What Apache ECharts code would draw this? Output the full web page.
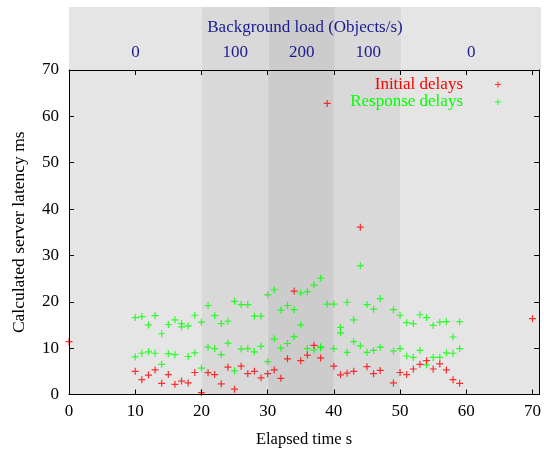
<!DOCTYPE html>
<html>
<head>
<meta charset="utf-8">
<script src="https://cdn.jsdelivr.net/npm/echarts@6/dist/echarts.min.js"></script>
<style>html,body{margin:0;padding:0;background:#fff;}#c{width:544px;height:453px;}</style>
</head>
<body>
<div id="c"></div>
<script>
// ---- data ----
var initialTimes  = [0, 10, 11, 12, 13, 14, 15, 16, 17, 18, 19, 20, 21, 22, 23, 24, 25, 26, 27, 28, 29, 30, 31, 32, 33, 34, 35, 36, 37, 38, 39, 40, 41, 42, 43, 44, 45, 46, 47, 49, 50, 51, 52, 53, 54, 55, 56, 57, 58, 59, 70];
var initialDelays = [11.4, 5.0, 3.2, 4.2, 5.3, 2.4, 4.3, 2.2, 2.9, 2.5, 4.75, 0.4, 4.7, 4.3, 2.3, 5.9, 1.15, 6.1, 4.5, 5.0, 3.6, 4.5, 5.3, 3.5, 7.7, 22.3, 7.3, 8.5, 10.6, 7.9, 62.8, 6.1, 4.25, 4.6, 5.0, 36.1, 6.0, 4.5, 5.2, 2.5, 4.75, 4.3, 5.5, 6.5, 7.3, 5.5, 6.6, 5.3, 3.2, 2.4, 16.35];

var responseTimesA  = [10, 11, 12, 13, 14, 15, 16, 17, 18, 19, 20, 21, 22, 23, 24, 25, 26, 27, 28, 29, 30, 31, 32, 33, 34, 35, 36, 37, 38, 39, 40, 41, 42, 43, 44, 45, 46, 47, 49, 50, 51, 52, 53, 54, 55, 56, 57, 58, 59];
var responseDelaysA = [16.6, 16.8, 15.0, 17.0, 13.1, 15.1, 16.1, 15.3, 14.8, 17.1, 15.6, 19.2, 17.0, 15.3, 15.8, 20.1, 19.4, 19.4, 16.9, 16.9, 21.5, 22.6, 18.2, 19.2, 18.3, 21.9, 22.2, 23.6, 25.1, 19.5, 19.5, 14.5, 19.9, 16.1, 27.8, 19.4, 18.4, 20.7, 18.3, 17.1, 15.5, 15.3, 17.2, 16.6, 14.9, 15.6, 15.7, 12.4, 15.7];
var responseTimesB  = [10, 11, 12, 13, 14, 15, 16, 17, 18, 19, 20, 21, 22, 23, 24, 25, 26, 27, 28, 29, 30, 31, 32, 33, 34, 35, 36, 37, 38, 38, 40, 41, 42, 43, 44, 45, 46, 47, 49, 50, 51, 52, 53, 54, 55, 56, 57, 58, 59];
var responseDelaysB = [8.1, 8.9, 9.2, 8.9, 6.5, 8.8, 8.6, 14.6, 8.2, 9.0, 5.7, 10.2, 9.9, 8.6, 11.1, 5.1, 9.8, 9.9, 9.2, 10.4, 7.1, 12.0, 10.0, 11.0, 12.5, 15.0, 9.9, 9.6, 10.3, 10.1, 9.9, 13.3, 9.1, 11.4, 10.5, 9.1, 9.5, 10.2, 9.4, 9.9, 8.3, 8.0, 9.5, 6.4, 8.0, 8.0, 9.0, 8.9, 9.9];

var bandStarts = [0, 20, 30, 40, 50];
var bandEnds   = [20, 30, 40, 50, 71];
var bandLoads  = ['0', '100', '200', '100', '0'];

// ---- styles ----
var bandColors = ['#e5e5e5', '#d9d9d9', '#cccccc', '#d9d9d9', '#e5e5e5'];
var FONT = 'Liberation Serif';
var NAVY = '#1a1a90';
var RED = '#ff0000';
var GREEN = '#00ff00';
var PLUS = 'path://M2.9,0h1.2v2.9h2.9v1.2h-2.9v2.9h-1.2v-2.9h-2.9v-1.2h2.9z';

function pairs(xs, ys) { return xs.map(function (x, i) { return [x, ys[i]]; }); }
var respData = pairs(responseTimesA, responseDelaysA).concat(pairs(responseTimesB, responseDelaysB));

function bands(withLabels) {
  return bandStarts.map(function (s, i) {
    return [{ xAxis: s, name: withLabels ? bandLoads[i] : '', itemStyle: { color: bandColors[i] } }, { xAxis: bandEnds[i] }];
  });
}

var axisCommon = {
  type: 'value', min: 0, max: 71, interval: 10, z: 10,
  splitLine: { show: false },
  axisLine: { show: true, onZero: false, lineStyle: { color: '#000', width: 1 } },
  axisTick: { show: true, inside: true, length: 5, lineStyle: { color: '#000' } }
};

var chart = echarts.init(document.getElementById('c'), null, { renderer: 'canvas' });
chart.setOption({
  animation: false,
  backgroundColor: '#fff',
  textStyle: { fontFamily: FONT },
  title: {
    text: 'Background load (Objects/s)', left: 305, top: 19.5, textAlign: 'center', padding: 0,
    textStyle: { fontFamily: FONT, fontSize: 17, fontWeight: 'normal', color: NAVY }
  },
  legend: [
    { data: ['Initial delays'], orient: 'vertical', align: 'right', right: 43, top: 76, padding: 0,
      itemWidth: 60, itemHeight: 6, icon: PLUS, selectedMode: false,
      textStyle: { fontFamily: FONT, fontSize: 17, color: RED } },
    { data: ['Response delays'], orient: 'vertical', align: 'right', right: 43, top: 93.5, padding: 0,
      itemWidth: 60, itemHeight: 6, icon: PLUS, selectedMode: false,
      textStyle: { fontFamily: FONT, fontSize: 17, color: GREEN } }
  ],
  grid: [
    { left: 69, right: 3, top: 70, bottom: 58 },
    { left: 69, right: 3, top: 7, height: 63 }
  ],
  xAxis: [
    Object.assign({}, axisCommon, {
      gridIndex: 0, position: 'bottom',
      name: 'Elapsed time s', nameLocation: 'middle', nameGap: 36.5,
      nameTextStyle: { fontFamily: FONT, fontSize: 16.5, color: '#000' },
      axisLabel: { show: true, margin: 9, showMaxLabel: false, fontFamily: FONT, fontSize: 17, color: '#000' }
    }),
    Object.assign({}, axisCommon, {
      gridIndex: 0, position: 'top', axisLabel: { show: false }
    }),
    { type: 'value', gridIndex: 1, min: 0, max: 71, show: false }
  ],
  yAxis: [
    Object.assign({}, axisCommon, {
      gridIndex: 0, position: 'left', min: 0, max: 70, interval: 10,
      name: 'Calculated server latency ms', nameLocation: 'middle', nameGap: 40.5,
      nameTextStyle: { fontFamily: FONT, fontSize: 17.5, color: '#000' },
      axisLabel: { show: true, margin: 10, fontFamily: FONT, fontSize: 17, color: '#000' }
    }),
    Object.assign({}, axisCommon, {
      gridIndex: 0, position: 'right', min: 0, max: 70, interval: 10, axisLabel: { show: false }
    }),
    { type: 'value', gridIndex: 1, min: 0, max: 1, show: false }
  ],
  series: [
    { type: 'scatter', name: 'bands', xAxisIndex: 0, yAxisIndex: 0, data: [], z: 1, silent: true,
      markArea: { silent: true, label: { show: false }, data: bands(false) } },
    { type: 'scatter', name: 'header', xAxisIndex: 2, yAxisIndex: 2, data: [], z: 1, silent: true,
      markArea: { silent: true,
        label: { show: true, position: ['50%', '72%'], align: 'center', verticalAlign: 'middle',
                 fontFamily: FONT, fontSize: 17, color: NAVY },
        data: bands(true) } },
    { type: 'scatter', name: 'Initial delays', xAxisIndex: 0, yAxisIndex: 0,
      symbol: PLUS, symbolSize: 7, itemStyle: { color: RED }, z: 4,
      data: pairs(initialTimes, initialDelays) },
    { type: 'scatter', name: 'Response delays', xAxisIndex: 0, yAxisIndex: 0,
      symbol: PLUS, symbolSize: 7, itemStyle: { color: GREEN }, z: 3,
      data: respData }
  ]
});
</script>
</body>
</html>
